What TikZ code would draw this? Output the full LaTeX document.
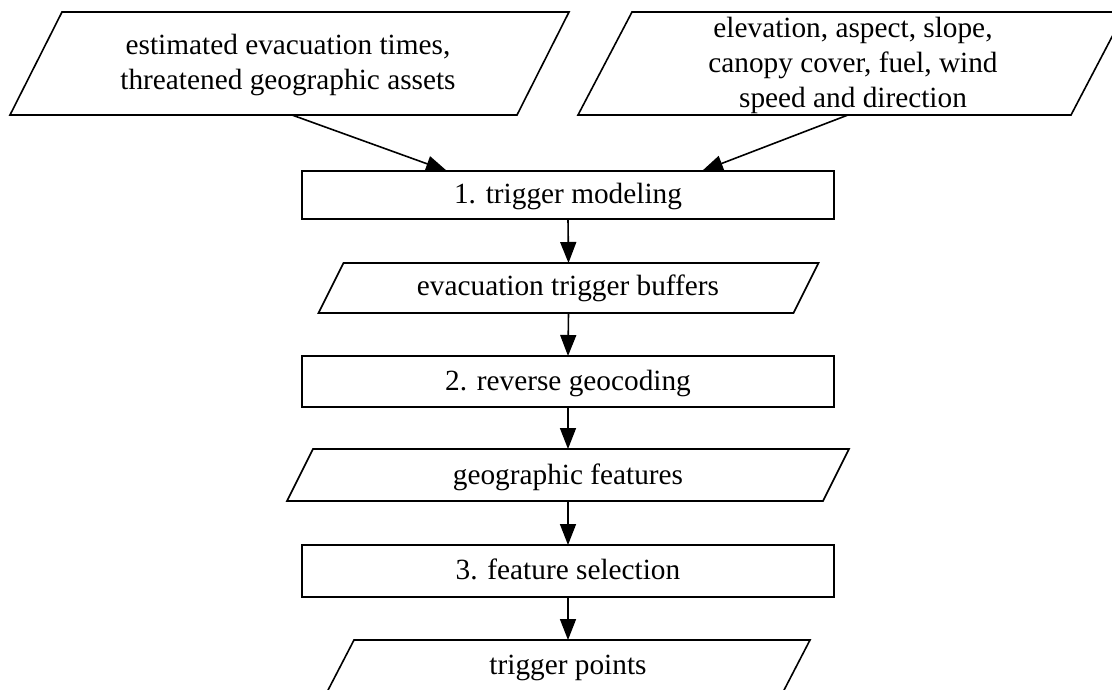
\documentclass[tikz,border=0pt]{standalone}
\usepackage{fontspec}
\setmainfont{Liberation Serif}
\usetikzlibrary{arrows.meta,calc}

% data shapes are parallelograms drawn around an invisible rectangle node
\newcommand{\dataoutline}[2]{%
  \draw[shapeline] ($(#1.south west)+(-#2/2,0)$) -- ($(#1.south east)+(-#2/2,0)$)
    -- ($(#1.north east)+(#2/2,0)$) -- ($(#1.north west)+(#2/2,0)$) -- cycle;}
% centred lines of text whose first baseline is the node's base anchor
\newcommand{\lines}[1]{\begin{tabular}[t]{@{}c@{}}#1\end{tabular}}

\tikzset{
  shapeline/.style={line width=1.6pt, line join=miter},
  txt/.style={font=\fontsize{29.3}{35.3}\selectfont, inner sep=0pt, anchor=base},
  databox/.style={rectangle, inner sep=0pt, outer sep=0pt},
  procbox/.style={rectangle, draw, line width=1.6pt, inner sep=0pt, outer sep=0pt,
    minimum width=532pt},
  arr/.style={line width=1.6pt, -{Triangle[length=21pt,width=16pt]}},
}

\begin{document}
\begin{tikzpicture}[x=1pt,y=-1pt]
  \useasboundingbox (0,0) rectangle (1112,689);
  \clip (0,0) rectangle (1112,689);

  % inputs
  \node[databox, minimum width=507pt, minimum height=103pt] (in1) at (289.5,63.5) {};
  \dataoutline{in1}{52}
  \node[txt] (in1text) at (288,54) {\lines{estimated evacuation times,\\threatened geographic assets}};
  \node[databox, minimum width=493pt, minimum height=103pt] (in2) at (851.5,63.5) {};
  \dataoutline{in2}{54}
  \node[txt] (in2text) at (853,37) {\lines{elevation, aspect, slope,\\canopy cover, fuel, wind\\speed and direction}};

  % processing chain
  \node[procbox, minimum height=48pt] (step1) at (568,195) {};
  \node[txt] (step1text) at (568,203.7) {1. trigger modeling};
  \node[databox, minimum width=475pt, minimum height=50pt] (buf) at (568.5,288) {};
  \dataoutline{buf}{25}
  \node[txt] (buftext) at (568,295.7) {evacuation trigger buffers};
  \node[procbox, minimum height=51pt] (step2) at (568,381.5) {};
  \node[txt] (step2text) at (568,390) {2. reverse geocoding};
  \node[databox, minimum width=536pt, minimum height=52pt] (feat) at (568,475) {};
  \dataoutline{feat}{26}
  \node[txt] (feattext) at (568,484) {geographic features};
  \node[procbox, minimum height=52pt] (step3) at (568,571) {};
  \node[txt] (step3text) at (568,579.3) {3. feature selection};
  \node[databox, minimum width=456pt, minimum height=54pt] (out) at (568,667) {};
  \dataoutline{out}{28}
  \node[txt] (outtext) at (568,674) {trigger points};

  % connector ends on the input shapes and the first step
  \coordinate (in1out) at (292,115);
  \coordinate (in2out) at (848,115);
  \coordinate (step1a) at (447,171);
  \coordinate (step1b) at (702,171);

  \draw[arr] (in1out) -- (step1a);
  \draw[arr] (in2out) -- (step1b);
  \draw[arr] (step1.south) -- (buf.north);
  \draw[arr] (buf.south) -- (step2.north);
  \draw[arr] (step2.south) -- (feat.north);
  \draw[arr] (feat.south) -- (step3.north);
  \draw[arr] (step3.south) -- (out.north);
\end{tikzpicture}
\end{document}
